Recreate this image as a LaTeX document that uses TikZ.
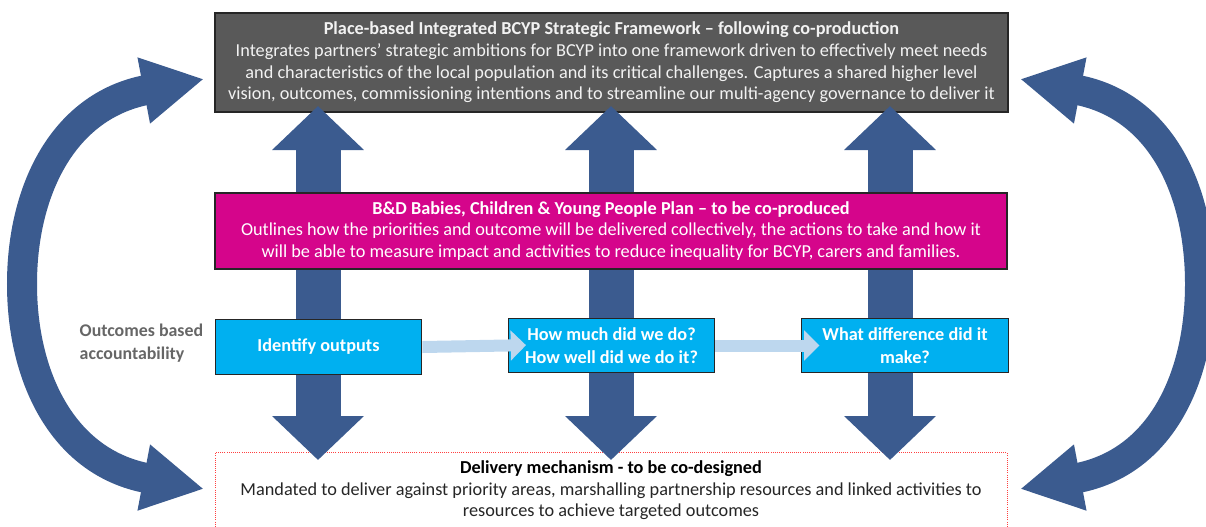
\documentclass[tikz,border=0pt]{standalone}
\usepackage{fontspec}
\setmainfont{Carlito}
\usetikzlibrary{arrows.meta}
\definecolor{darkarrow}{HTML}{3B5B8F}
\definecolor{boxgray}{HTML}{595959}
\definecolor{plumpink}{HTML}{D5058B}
\definecolor{skyblue}{HTML}{00B0F0}
\definecolor{paleblue}{HTML}{BDD7EE}
\definecolor{labelgray}{HTML}{666666}
\definecolor{bodytext}{HTML}{262626}
\begin{document}
\begin{tikzpicture}[x=0.75pt,y=-0.75pt,
  basefont/.style={font=\fontsize{13.7}{16.2}\selectfont},
  topbox/.style={basefont, fill=boxgray, draw=black!85, line width=0.8pt, text=white!95!black,
    minimum width=594.75pt, minimum height=74.25pt, inner sep=0pt, align=center},
  pinkbox/.style={basefont, fill=plumpink, draw=black!85, line width=0.8pt, text=white,
    minimum width=594pt, minimum height=57pt, inner sep=0pt, align=center},
  bluebox/.style={fill=skyblue, draw=black!85, line width=0.8pt, text=white,
    minimum width=155pt, minimum height=41pt, inner sep=0pt, align=center, font=\fontsize{13.7}{17.5}\selectfont\bfseries},
  delbox/.style={basefont, fill=white, draw=red!75, densely dotted, line width=0.6pt, text=bodytext,
    minimum width=594pt, minimum height=56.5pt, inner sep=0pt, align=center},
  vbig/.style={draw=darkarrow, line width=33.75pt,
    {Triangle[width=67pt,length=33pt]}-{Triangle[width=67pt,length=33pt]}},
  carrow/.style={draw=darkarrow, line width=22.5pt,
    {Triangle[width=47pt,length=46pt]}-{Triangle[width=47pt,length=46pt]}},
  larrow/.style={draw=paleblue, line width=9pt,
    -{Triangle[width=22pt,length=11.5pt]}, shorten >=-13.8pt},
]
\useasboundingbox (0,0) rectangle (1206,526);

% boxes at back
\node[topbox] (top) at (611.5,62.5) {\textbf{Place-based Integrated BCYP Strategic Framework – following co-production}\\Integrates partners’ strategic ambitions for BCYP into one framework driven to effectively meet needs\\and characteristics of the local population and its critical challenges. Captures a shared higher level\\vision, outcomes, commissioning intentions and to streamline our multi-agency governance to deliver it};
\node[delbox] (del) at (611,490.5) {{\color{black}\textbf{Delivery mechanism - to be co-designed}}\\Mandated to deliver against priority areas, marshalling partnership resources and linked activities to\\resources to achieve targeted outcomes};

% curved arrows
\coordinate (lt) at (204,79);
\coordinate (lb) at (204,489);
\coordinate (rt) at (1020,79);
\coordinate (rb) at (1020,489);
\draw[carrow] (lb) .. controls (62,462) and (22,376) .. (22,284) .. controls (22,192) and (62,106) .. (lt);
\draw[carrow] (rb) .. controls (1162,462) and (1200,376) .. (1200,284) .. controls (1200,192) and (1162,106) .. (rt);

% vertical double arrows
\coordinate (u1) at (318,106);  \coordinate (d1) at (318,460);
\coordinate (u2) at (611,106);  \coordinate (d2) at (611,460);
\coordinate (u3) at (890,106);  \coordinate (d3) at (890,460);
\draw[vbig] (d1) -- (u1);
\draw[vbig] (d2) -- (u2);
\draw[vbig] (d3) -- (u3);

% pink plan box
\node[pinkbox] (plan) at (611,231) {\textbf{B\&D Babies, Children \& Young People Plan – to be co-produced}\\Outlines how the priorities and outcome will be delivered collectively, the actions to take and how it\\will be able to measure impact and activities to reduce inequality for BCYP, carers and families.};

% blue boxes
\node[bluebox] (b1) at (318.5,347) {Identify outputs};
\node[bluebox] (b2) at (611.5,345.5) {How much did we do?\\How well did we do it?};
\node[bluebox] (b3) at (905,345.5) {What difference did it\\make?};

\draw[larrow] (b1.east) -- (b2.west);
\draw[larrow] (b2.east) -- (b3.west);

% side label
\node[anchor=west, align=left, text=labelgray, font=\fontsize{13.4}{17}\selectfont\bfseries] (oba) at (75,343) {Outcomes based\\accountability};
\end{tikzpicture}
\end{document}
